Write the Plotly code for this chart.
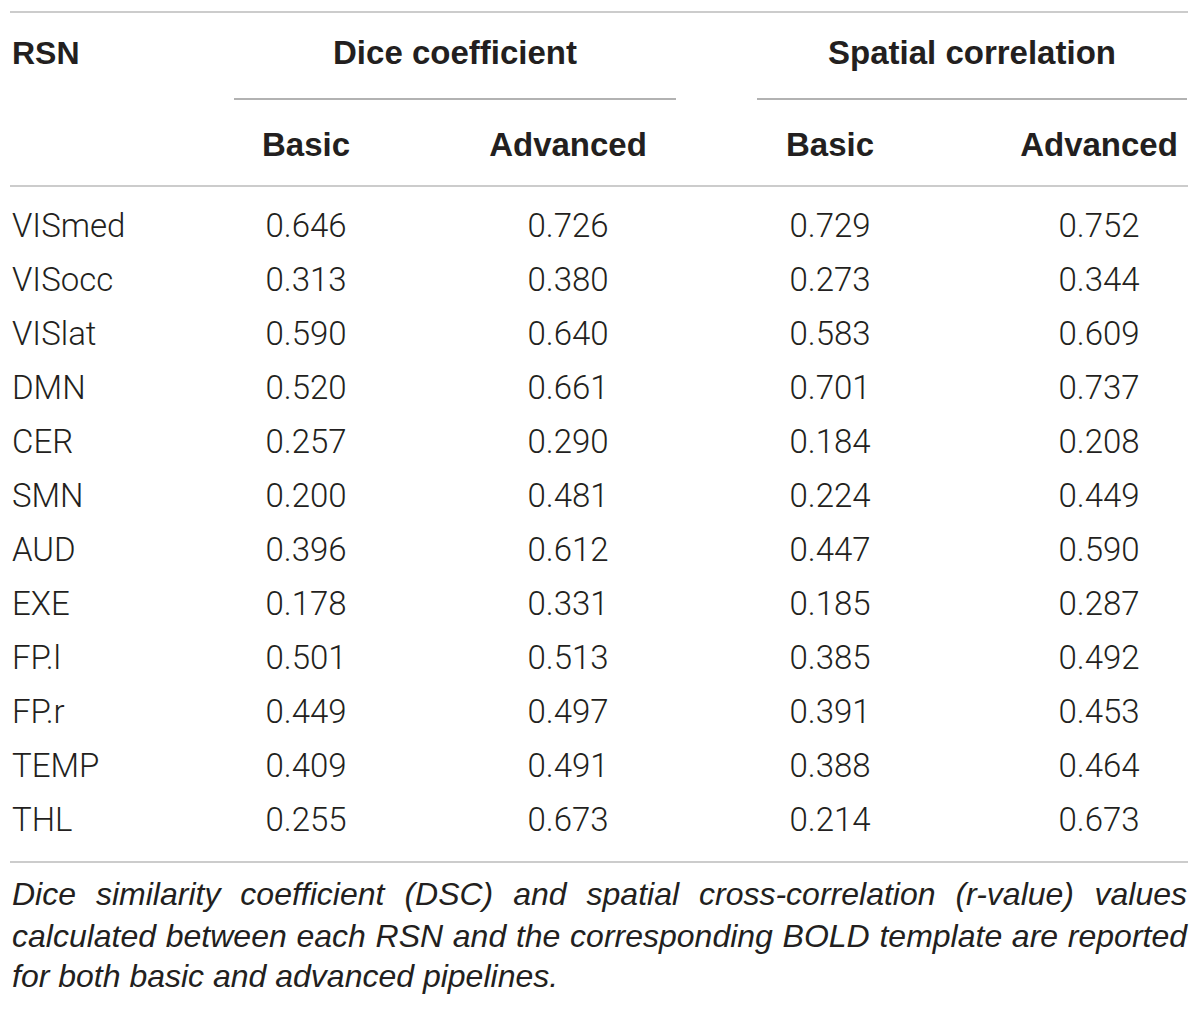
import plotly.graph_objects as go

# ---------------- data ----------------
rsn = ["VISmed", "VISocc", "VISlat", "DMN", "CER", "SMN", "AUD", "EXE", "FP.l", "FP.r", "TEMP", "THL"]
dice_basic = ["0.646", "0.313", "0.590", "0.520", "0.257", "0.200", "0.396", "0.178", "0.501", "0.449", "0.409", "0.255"]
dice_adv = ["0.726", "0.380", "0.640", "0.661", "0.290", "0.481", "0.612", "0.331", "0.513", "0.497", "0.491", "0.673"]
spat_basic = ["0.729", "0.273", "0.583", "0.701", "0.184", "0.224", "0.447", "0.185", "0.385", "0.391", "0.388", "0.214"]
spat_adv = ["0.752", "0.344", "0.609", "0.737", "0.208", "0.449", "0.590", "0.287", "0.492", "0.453", "0.464", "0.673"]
group_headers = ["Dice coefficient", "Spatial correlation"]
sub_headers = ["Basic", "Advanced", "Basic", "Advanced"]
first_header = "RSN"
caption_lines = [
    "Dice similarity coefficient (DSC) and spatial cross-correlation (r-value) values",
    "calculated between each RSN and the corresponding BOLD template are reported",
    "for both basic and advanced pipelines.",
]

# ---------------- layout constants (page pixel coordinates) ----------------
PAGE_W, PAGE_H = 1200, 1010
BODY_MARGIN = 8
FIG_W, FIG_H = PAGE_W - 2 * BODY_MARGIN, PAGE_H - 2 * BODY_MARGIN
TEXT = "#231f20"
BODY_FONT = "Roboto"
HEAD_FONT = "Liberation Sans"
FS = 33
col_x = [306, 568, 830, 1099]
group_x = [455, 972]
group_lines = [(234, 676), (757, 1187)]
left_x = 12
right_x = 1188
row0, pitch = 229, 54
rows_y = [row0 + i * pitch for i in range(len(rsn))]
head_y, sub_y = 56, 148

fig = go.Figure()

# header texts
fig.add_trace(go.Scatter(x=[left_x], y=[head_y], mode="text", text=[first_header],
                         textposition="middle right",
                         textfont=dict(family=HEAD_FONT, size=FS - 1, color=TEXT, weight="bold"),
                         hoverinfo="skip"))
fig.add_trace(go.Scatter(x=group_x, y=[head_y] * 2, mode="text", text=group_headers,
                         textposition="middle center",
                         textfont=dict(family=HEAD_FONT, size=FS, color=TEXT, weight="bold"),
                         hoverinfo="skip"))
fig.add_trace(go.Scatter(x=col_x, y=[sub_y] * 4, mode="text", text=sub_headers,
                         textposition="middle center",
                         textfont=dict(family=HEAD_FONT, size=FS, color=TEXT, weight="bold"),
                         hoverinfo="skip"))

# body
fig.add_trace(go.Scatter(x=[left_x] * len(rsn), y=rows_y, mode="text", text=rsn,
                         textposition="middle right",
                         textfont=dict(family=BODY_FONT, size=FS, color=TEXT, weight=300),
                         hoverinfo="skip"))
for cx, vals in zip(col_x, [dice_basic, dice_adv, spat_basic, spat_adv]):
    fig.add_trace(go.Scatter(x=[cx] * len(vals), y=rows_y, mode="text", text=vals,
                             textposition="middle center",
                             textfont=dict(family=BODY_FONT, size=FS, color=TEXT, weight=300),
                             hoverinfo="skip"))

# caption with justified lines (Arial/Liberation metrics)
AW = {' ': 278, '(': 333, ')': 333, '-': 333, '.': 278,
      'A': 667, 'B': 667, 'C': 722, 'D': 722, 'E': 667, 'F': 611, 'G': 778, 'H': 722, 'I': 278,
      'J': 500, 'K': 667, 'L': 556, 'M': 833, 'N': 722, 'O': 778, 'P': 667, 'Q': 778, 'R': 722,
      'S': 667, 'T': 611, 'U': 722, 'V': 667, 'W': 944, 'X': 667, 'Y': 667, 'Z': 611,
      'a': 556, 'b': 556, 'c': 500, 'd': 556, 'e': 556, 'f': 278, 'g': 556, 'h': 556, 'i': 222,
      'j': 222, 'k': 500, 'l': 222, 'm': 833, 'n': 556, 'o': 556, 'p': 556, 'q': 556, 'r': 333,
      's': 500, 't': 278, 'u': 556, 'v': 500, 'w': 722, 'x': 500, 'y': 500, 'z': 500}
CFS = 32


def wwidth(word):
    return sum(AW.get(c, 556) for c in word) / 1000 * CFS


cap_y = [897, 939, 979]
for li, line in enumerate(caption_lines):
    words = line.split(" ")
    if li < len(caption_lines) - 1:
        total = sum(wwidth(w) for w in words)
        gap = (right_x - 1 - left_x - total) / (len(words) - 1)
    else:
        gap = AW[' '] / 1000 * CFS
    xs = []
    x = left_x
    for w in words:
        xs.append(x)
        x += wwidth(w) + gap
    fig.add_trace(go.Scatter(x=xs, y=[cap_y[li]] * len(words), mode="text", text=words,
                             textposition="middle right",
                             textfont=dict(family=HEAD_FONT, size=CFS, color=TEXT, style="italic"),
                             hoverinfo="skip"))

# rules
shapes = [
    dict(type="line", x0=10, x1=right_x, y0=12, y1=12, line=dict(color="#cccccc", width=2)),
    dict(type="line", x0=10, x1=right_x, y0=186, y1=186, line=dict(color="#cccccc", width=2)),
    dict(type="line", x0=10, x1=right_x, y0=862, y1=862, line=dict(color="#cccccc", width=2)),
]
for a, b in group_lines:
    shapes.append(dict(type="line", x0=a, x1=b, y0=99, y1=99, line=dict(color="#999999", width=1.5)))

fig.update_layout(
    width=FIG_W, height=FIG_H, margin=dict(l=0, r=0, t=0, b=0),
    paper_bgcolor="white", plot_bgcolor="white", showlegend=False,
    xaxis=dict(range=[BODY_MARGIN, BODY_MARGIN + FIG_W], visible=False, fixedrange=True),
    yaxis=dict(range=[BODY_MARGIN + FIG_H, BODY_MARGIN], visible=False, fixedrange=True),
    shapes=shapes,
)
fig.write_html("out.html")
